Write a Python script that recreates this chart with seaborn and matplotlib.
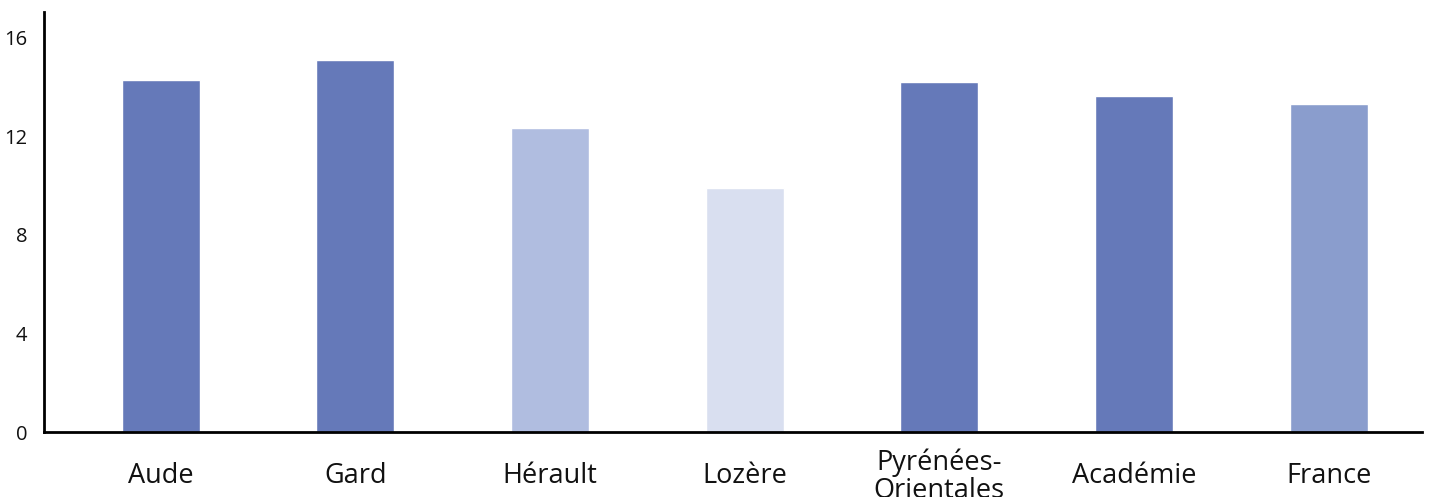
import matplotlib
matplotlib.use("Agg")
import matplotlib.pyplot as plt
import seaborn as sns
import pandas as pd

categories = ["Aude", "Gard", "Hérault", "Lozère", "Pyrénées-\nOrientales", "Académie", "France"]
values = [14.3, 15.1, 12.35, 9.9, 14.2, 13.65, 13.3]
colors = ["#6579b9", "#6579b9", "#b0bde0", "#d9dff0", "#6579b9", "#6579b9", "#8a9dcd"]
yticks = [0, 4, 8, 12, 16]

sns.set_theme(style="white")
plt.rcParams["font.family"] = ["Open Sans", "DejaVu Sans"]

df = pd.DataFrame({"cat": categories, "val": values})

W, H = 1435, 497
fig = plt.figure(figsize=(W / 100, H / 100), dpi=100)
ax = fig.add_axes([44 / W, (H - 432) / H, (1422 - 44) / W, (432 - 12) / H])

sns.barplot(data=df, x="cat", y="val", hue="cat", palette=colors, legend=False,
            width=0.4, ax=ax, saturation=1)

ax.set_xlim(-0.6, 6.48)
ax.set_ylim(0, 17.05)
ax.set_yticks(yticks)
ax.set_yticklabels([str(t) for t in yticks], fontsize=14.5, color="#111111")
ax.tick_params(axis="x", labelsize=19.5, length=6, width=1.8, color="#333333", pad=26)
ax.tick_params(axis="y", length=6, width=1.8, color="#333333", pad=6)
for lab in ax.get_xticklabels():
    lab.set_linespacing(1.0)
    lab.set_verticalalignment("center")
    lab.set_color("#111111")
ax.set_xlabel("")
ax.set_ylabel("")
for s in ["top", "right"]:
    ax.spines[s].set_visible(False)
for s in ["left", "bottom"]:
    ax.spines[s].set_linewidth(2)
    ax.spines[s].set_color("black")
ax.grid(False)

fig.savefig("out.png", dpi=100)
